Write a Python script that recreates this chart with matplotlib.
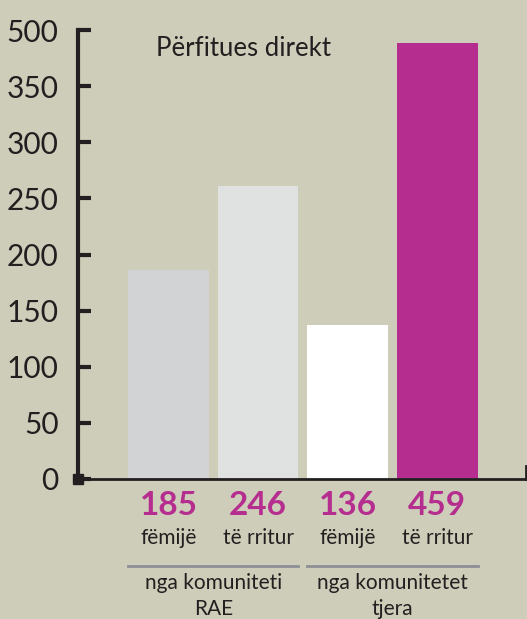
import matplotlib.pyplot as plt

BG = '#cecdb9'
MAGENTA = '#b52e8f'
DARK = '#231f20'

# data
categories = ['fëmijë', 'të rritur', 'fëmijë', 'të rritur']
value_labels = ['185', '246', '136', '459']
bar_heights = [186, 261, 137, 388]  # drawn heights (axis is broken above 350)
bar_colors = ['#d2d3d5', '#dfe2e0', '#ffffff', MAGENTA]
groups = ['nga komuniteti\nRAE', 'nga komunitetet\ntjera']
tick_pos = [0, 50, 100, 150, 200, 250, 300, 350, 400]
tick_labels = ['0', '50', '100', '150', '200', '250', '300', '350', '500']

plt.rcParams['font.family'] = ['Lato', 'DejaVu Sans']

W, H = 527, 619
fig = plt.figure(figsize=(W / 100, H / 100), dpi=100, facecolor=BG)
ax = fig.add_axes([78 / W, (H - 479) / H, (526 - 78) / W, (479 - 30) / H])
ax.set_facecolor(BG)

x = range(len(bar_heights))
ax.bar(x, bar_heights, width=0.9, color=bar_colors, zorder=2)
ax.set_xlim(-1.01, 3.99)
ax.set_ylim(0, 400)

for s in ['top', 'right']:
    ax.spines[s].set_visible(False)
ax.spines['left'].set_linewidth(3)
ax.spines['left'].set_color(DARK)
ax.spines['bottom'].set_linewidth(2)
ax.spines['bottom'].set_color(DARK)
ax.set_xticks([])
ax.set_yticks(tick_pos)
ax.set_yticklabels(tick_labels)
ax.tick_params(axis='y', direction='in', length=9, width=3, color=DARK,
               labelsize=21.5, labelcolor=DARK, pad=14)

# small end marks
ax.plot([1, 1], [0, 0.028], transform=ax.transAxes, color=DARK, lw=2,
        clip_on=False)
ax.plot([0], [0], marker='s', ms=7, color=DARK, transform=ax.transAxes,
        clip_on=False, zorder=5)

ax.text(0.37, 0.958, 'Përfitues direkt', transform=ax.transAxes,
        ha='center', va='center', fontsize=18.5, color=DARK)

tr = ax.get_xaxis_transform()
for i in x:
    ax.text(i, -0.058, value_labels[i], transform=tr, ha='center', va='center',
            fontsize=24, fontweight='bold', color=MAGENTA)
    ax.text(i, -0.131, categories[i], transform=tr, ha='center', va='center',
            fontsize=15, color=DARK)

for g, label in enumerate(groups):
    c = 2 * g + 0.5
    ax.plot([c - 0.95, c + 0.95], [-0.194, -0.194], transform=tr,
            color='#8c9094', lw=2, clip_on=False)
    ax.text(c, -0.26, label, transform=tr, ha='center', va='center',
            fontsize=15, color=DARK, linespacing=1.4)

fig.savefig('out.png', dpi=100, facecolor=BG)
